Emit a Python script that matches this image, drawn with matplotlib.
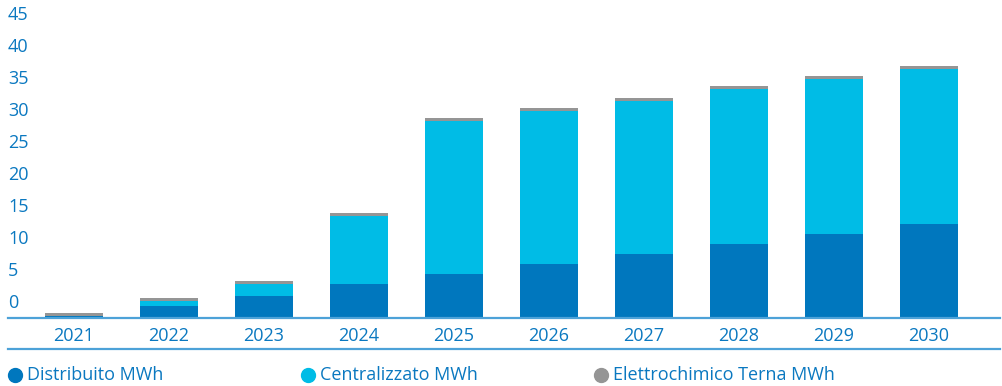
import matplotlib
matplotlib.use("Agg")
import matplotlib.pyplot as plt
from matplotlib.lines import Line2D
from matplotlib import transforms

plt.rcParams["font.family"] = ["Open Sans", "DejaVu Sans"]

YEARS = ["2021", "2022", "2023", "2024", "2025", "2026", "2027", "2028", "2029", "2030"]
DISTRIBUITO = [0.25, 1.8, 3.35, 5.2, 6.85, 8.4, 9.95, 11.5, 13.1, 14.65]
CENTRALIZZATO = [0.0, 0.8, 1.9, 10.7, 23.85, 23.85, 23.85, 24.15, 24.15, 24.15]
ELETTROCHIMICO = [0.42, 0.45, 0.42, 0.42, 0.45, 0.45, 0.45, 0.45, 0.45, 0.45]
Y_TICKS = [0, 5, 10, 15, 20, 25, 30, 35, 40, 45]
SERIES_NAMES = ["Distribuito MWh", "Centralizzato MWh", "Elettrochimico Terna MWh"]

DARK_BLUE = "#0077be"
CYAN = "#00bce6"
GREY = "#959595"
TEXT_BLUE = "#0a78c0"
LINE_BLUE = "#4da2d8"
FONT_SIZE = 13

W, H = 1003, 386
fig = plt.figure(figsize=(W / 100, H / 100), dpi=100)
ax = fig.add_axes([8 / W, (H - 317.5) / H, 992 / W, 307.2 / H])

x = list(range(len(YEARS)))
bottom2 = [d + c for d, c in zip(DISTRIBUITO, CENTRALIZZATO)]
ax.bar(x, DISTRIBUITO, width=0.61, color=DARK_BLUE, zorder=2)
ax.bar(x, CENTRALIZZATO, width=0.61, bottom=DISTRIBUITO, color=CYAN, zorder=2)
ax.bar(x, ELETTROCHIMICO, width=0.61, bottom=bottom2, color=GREY, zorder=2)

ax.set_xlim(-0.695, 9.747)
ax.set_ylim(0, 48)

for side in ["top", "right", "left"]:
    ax.spines[side].set_visible(False)
ax.spines["bottom"].set_color(LINE_BLUE)
ax.spines["bottom"].set_linewidth(1.6)
ax.spines["bottom"].set_zorder(3)

ax.set_xticks(x)
ax.set_xticklabels(YEARS, fontsize=FONT_SIZE, color=TEXT_BLUE)
ax.tick_params(axis="x", length=0, pad=6.5)
ax.set_yticks([])

# y labels sit just above their values, left-aligned at the axis start
label_tr = transforms.offset_copy(
    transforms.blended_transform_factory(ax.transAxes, ax.transData),
    fig=fig, x=0, y=14, units="dots")
for v in Y_TICKS:
    ax.text(0, v, str(v), transform=label_tr, ha="left", va="center",
            fontsize=FONT_SIZE, color=TEXT_BLUE)

# rule under the year labels
fig.add_artist(Line2D([8 / W, 1000 / W], [(H - 349) / H] * 2,
                      transform=fig.transFigure, color=LINE_BLUE, lw=1.6))

# legend row
legend_colors = [DARK_BLUE, CYAN, GREY]
for i, (name, col) in enumerate(zip(SERIES_NAMES, legend_colors)):
    mx = (15 + 293 * i) / W
    my = (H - 375) / H
    fig.add_artist(Line2D([mx], [my], transform=fig.transFigure, marker="o",
                          markersize=10, color=col, linestyle="none"))
    fig.text(mx + 12 / W, my, name, ha="left", va="center",
             fontsize=FONT_SIZE, color=TEXT_BLUE)

fig.savefig("out.png", dpi=100)
